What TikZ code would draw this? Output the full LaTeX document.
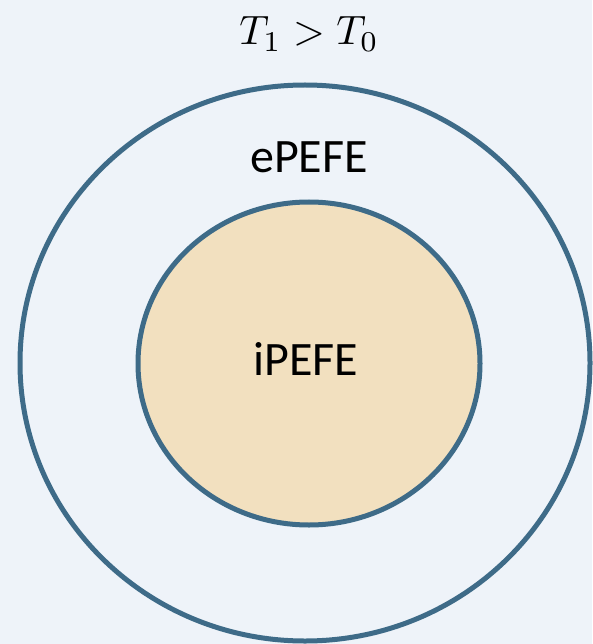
\documentclass[tikz,border=0pt]{standalone}
\usepackage{fontspec}
\setmainfont{Carlito}
\begin{document}
\begin{tikzpicture}[x=1pt,y=-1pt,
  ring/.style={draw=ringblue,line width=5pt},
  lbl/.style={anchor=base,inner sep=0pt,font=\fontsize{48}{54}\selectfont}]
\definecolor{bgcol}{HTML}{EEF3F9}
\definecolor{ringblue}{HTML}{3E6B88}
\definecolor{innerfill}{HTML}{F2E0BF}
\fill[bgcol] (0,0) rectangle (592,644);
\useasboundingbox (0,0) rectangle (592,644);
\draw[ring] (305,363) ellipse [x radius=285, y radius=278];
\draw[ring,fill=innerfill] (309,363.5) ellipse [x radius=171, y radius=161.5];
\node[anchor=base,inner sep=0pt] (title) at (309,45) {\scalebox{4.1}{$T_1 > T_0$}};
\node[lbl] (outer) at (309,173) {ePEFE};
\node[lbl] (inner) at (306,375) {iPEFE};
\end{tikzpicture}
\end{document}
